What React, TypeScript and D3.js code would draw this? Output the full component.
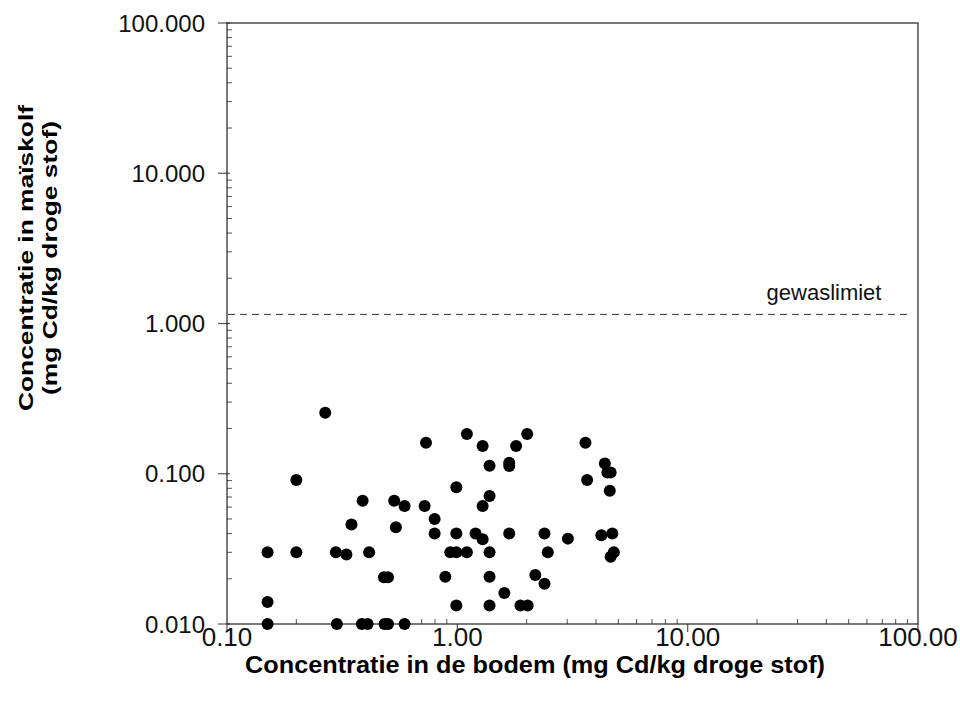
import React from "react";
import * as d3 from "d3";

// Cadmium in soil (x) vs. cadmium in corn cob (y), mg Cd/kg dry matter
const soilCd: number[] = [
  0.15, 0.15, 0.15, 0.267, 0.2, 0.2, 0.388, 0.532, 0.59, 0.347, 0.541,
  0.297, 0.33, 0.414, 0.48, 0.5, 0.3, 0.385, 0.408, 0.483, 0.5, 0.59,
  0.731, 1.1, 1.288, 1.8, 2.01, 1.38, 1.68, 1.68, 0.99, 1.38, 0.721,
  1.288, 0.797, 0.797, 0.99, 1.2, 1.288, 1.68, 2.39, 0.932, 0.99, 1.1,
  1.38, 2.47, 0.887, 1.38, 2.18, 2.39, 1.6, 0.99, 1.38, 1.88, 2.02,
  3.6, 4.37, 4.48, 4.63, 3.66, 4.59, 3.02, 4.22, 4.71, 4.78, 4.63,
];
const cobCd: number[] = [
  0.03, 0.014, 0.01, 0.255, 0.091, 0.03, 0.066, 0.066, 0.061, 0.046, 0.044,
  0.03, 0.029, 0.03, 0.0205, 0.0205, 0.01, 0.01, 0.01, 0.01, 0.01, 0.01,
  0.161, 0.184, 0.153, 0.153, 0.184, 0.113, 0.1185, 0.1127, 0.0813, 0.071, 0.061,
  0.061, 0.05, 0.04, 0.04, 0.04, 0.0366, 0.04, 0.04, 0.03, 0.03, 0.03,
  0.03, 0.03, 0.0206, 0.0206, 0.0212, 0.0185, 0.0161, 0.0133, 0.0133, 0.0133, 0.0133,
  0.161, 0.117, 0.102, 0.102, 0.091, 0.077, 0.037, 0.039, 0.04, 0.03, 0.028,
];

const cropLimit = 1.15;
const cropLimitLabel = "gewaslimiet";

const xTickValues: number[] = [0.1, 1, 10, 100];
const xTickLabels: string[] = ["0.10", "1.00", "10.00", "100.00"];
const yTickValues: number[] = [0.01, 0.1, 1, 10, 100];
const yTickLabels: string[] = ["0.010", "0.100", "1.000", "10.000", "100.000"];

const xTitle = "Concentratie in de bodem (mg Cd/kg droge stof)";
const yTitle1 = "Concentratie in maïskolf";
const yTitle2 = "(mg Cd/kg droge stof)";

const W = 960;
const H = 704;
const L = 227;
const R = 918;
const T = 23;
const B = 624;

function minorTicks(lo: number, hi: number): number[] {
  const out: number[] = [];
  for (let d = lo; d < hi; d *= 10) {
    for (let k = 2; k <= 9; k++) out.push(d * k);
  }
  return out;
}

export default function App() {
  const x = d3.scaleLog().domain([0.1, 100]).range([L, R]);
  const y = d3.scaleLog().domain([0.01, 100]).range([B, T]);
  const font = "'Liberation Sans', Arial, Helvetica, sans-serif";
  const tickColor = "#555";

  const xMinor = minorTicks(0.1, 100);
  const yMinor = minorTicks(0.01, 100);
  const pts = soilCd.map((v, i) => ({ sx: v, cy: cobCd[i] }));

  return (
    <svg
      width={W}
      height={H}
      style={{ position: "absolute", left: 0, top: 0, background: "#fff" }}
      fontFamily={font}
    >
      {/* minor ticks, pointing inward */}
      {xMinor.map((v, i) => (
        <line key={"xm" + i} x1={x(v)} x2={x(v)} y1={B} y2={B - 5} stroke={tickColor} strokeWidth={1} />
      ))}
      {yMinor.map((v, i) => (
        <line key={"ym" + i} x1={L} x2={L + 5} y1={y(v)} y2={y(v)} stroke={tickColor} strokeWidth={1} />
      ))}
      {/* major ticks, pointing outward */}
      {xTickValues.map((v, i) => (
        <line key={"xM" + i} x1={x(v)} x2={x(v)} y1={B} y2={B + 8} stroke={tickColor} strokeWidth={1.2} />
      ))}
      {yTickValues.map((v, i) => (
        <line key={"yM" + i} x1={L - 9} x2={L + 3} y1={y(v)} y2={y(v)} stroke={tickColor} strokeWidth={1.2} />
      ))}

      {/* frame */}
      <rect x={L} y={T} width={R - L} height={B - T} fill="none" stroke="#222" strokeWidth={1.2} />

      {/* crop limit */}
      <line
        x1={L + 1}
        x2={R - 8}
        y1={y(cropLimit)}
        y2={y(cropLimit)}
        stroke="#333"
        strokeWidth={1}
        strokeDasharray="7,5"
      />
      <text x={824} y={y(cropLimit) - 14} fontSize={22} textAnchor="middle" fill="#111">
        {cropLimitLabel}
      </text>

      {/* data */}
      {pts.map((p, i) => (
        <circle key={"p" + i} cx={x(p.sx)} cy={y(p.cy)} r={6} fill="#000" />
      ))}

      {/* tick labels */}
      {xTickValues.map((v, i) => (
        <text key={"xl" + i} x={x(v)} y={646} fontSize={26} textAnchor="middle" fill="#111">
          {xTickLabels[i]}
        </text>
      ))}
      {yTickValues.map((v, i) => (
        <text key={"yl" + i} x={205} y={y(v) + 8.5} fontSize={24} textAnchor="end" fill="#111">
          {yTickLabels[i]}
        </text>
      ))}

      {/* axis titles */}
      <text
        x={535}
        y={673}
        fontSize={23}
        fontWeight="bold"
        textAnchor="middle"
        textLength={580}
        lengthAdjust="spacingAndGlyphs"
        fill="#000"
      >
        {xTitle}
      </text>
      <g transform="translate(33,258) rotate(-90)">
        <text
          x={0}
          y={0}
          fontSize={21}
          fontWeight="bold"
          textAnchor="middle"
          textLength={306}
          lengthAdjust="spacingAndGlyphs"
          fill="#000"
        >
          {yTitle1}
        </text>
      </g>
      <g transform="translate(57,258) rotate(-90)">
        <text
          x={0}
          y={0}
          fontSize={21}
          fontWeight="bold"
          textAnchor="middle"
          textLength={274}
          lengthAdjust="spacingAndGlyphs"
          fill="#000"
        >
          {yTitle2}
        </text>
      </g>
    </svg>
  );
}
